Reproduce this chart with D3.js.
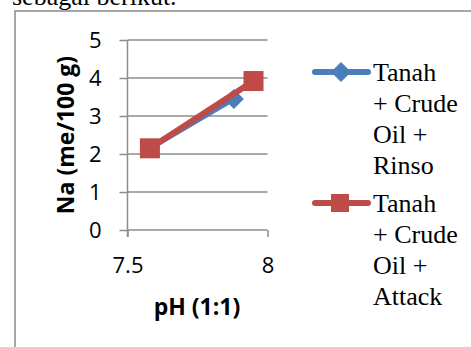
<!DOCTYPE html>
<html>
<head>
<meta charset="utf-8">
<script src="https://cdn.jsdelivr.net/npm/d3@7"></script>
<style>
  body { margin: 0; background: #fff; }
  svg { display: block; }
</style>
</head>
<body>
<div id="chart"></div>
<script>
// data
var seriesNames = ["Tanah + Crude Oil + Rinso", "Tanah + Crude Oil + Attack"];
var legendLines = [["Tanah", "+ Crude", "Oil +", "Rinso"], ["Tanah", "+ Crude", "Oil +", "Attack"]];
var phRinso = [7.58, 7.88];
var naRinso = [2.15, 3.45];
var phAttack = [7.58, 7.95];
var naAttack = [2.15, 3.92];
var yTicks = [0, 1, 2, 3, 4, 5];
var xTicks = [7.5, 8];
var colors = ["#4a7ebb", "#be4b48"];

var w = 471, h = 347;
var svg = d3.select("#chart").append("svg").attr("width", w).attr("height", h);

// caption text above, cut off by the page edge
svg.append("text")
  .attr("x", 12).attr("y", 5)
  .attr("font-family", "Liberation Serif, Times New Roman, serif")
  .attr("font-size", 26)
  .text("sebagai berikut.");

// chart frame
svg.append("path")
  .attr("d", "M15," + (h + 2) + "V11H" + (w + 2))
  .attr("fill", "none")
  .attr("stroke", "#8a8a8a")
  .attr("stroke-width", 1.5);

var x = d3.scaleLinear().domain([7.5, 8]).range([127.5, 267.5]);
var y = d3.scaleLinear().domain([0, 5]).range([230, 40]);

var grid = "#8c8c8c";
var sans = "Open Sans, Lato, sans-serif";

// gridlines
svg.append("g").selectAll("line")
  .data(yTicks.slice(1))
  .enter().append("line")
  .attr("x1", x(7.5)).attr("x2", x(8))
  .attr("y1", function(d) { return y(d); })
  .attr("y2", function(d) { return y(d); })
  .attr("stroke", grid).attr("stroke-width", 1.5);

// y axis
var yAxis = svg.append("g")
  .attr("transform", "translate(" + x(7.5) + ",0)")
  .call(d3.axisLeft(y).tickValues(yTicks).tickSize(8).tickPadding(18).tickFormat(d3.format("d")));
yAxis.select(".domain").attr("d", "M0," + y(5) + "V" + (y(0) + 7));

// x axis
var xAxis = svg.append("g")
  .attr("transform", "translate(0," + y(0) + ")")
  .call(d3.axisBottom(x).tickValues(xTicks).tickSize(7).tickPadding(20).tickFormat(function(d) { return d === 8 ? "8" : d3.format(".1f")(d); }));
xAxis.select(".domain").attr("d", "M" + x(7.5) + ",0H" + x(8));

svg.selectAll(".tick line, .domain").attr("stroke", grid).attr("stroke-width", 1.5);
svg.selectAll(".tick text")
  .attr("font-family", sans)
  .attr("font-size", 22)
  .attr("fill", "#000");

// axis titles
svg.append("text")
  .attr("x", 197).attr("y", 315)
  .attr("text-anchor", "middle")
  .attr("font-family", sans)
  .attr("font-weight", "bold")
  .attr("font-size", 23)
  .text("pH (1:1)");

svg.append("text")
  .attr("transform", "translate(74,135) rotate(-90)")
  .attr("text-anchor", "middle")
  .attr("font-family", sans)
  .attr("font-weight", "bold")
  .attr("font-size", 23)
  .text("Na (me/100 g)");

var line = d3.line().x(function(d) { return x(d[0]); }).y(function(d) { return y(d[1]); });

var rinso = d3.zip(phRinso, naRinso);
var attack = d3.zip(phAttack, naAttack);

// Rinso series (blue, diamonds)
svg.append("path").datum(rinso)
  .attr("d", line).attr("fill", "none")
  .attr("stroke", colors[0]).attr("stroke-width", 5).attr("stroke-linecap", "round");
svg.append("g").selectAll("path")
  .data(rinso).enter().append("path")
  .attr("transform", function(d) { return "translate(" + x(d[0]) + "," + y(d[1]) + ")"; })
  .attr("d", "M0,-10L10,0L0,10L-10,0Z")
  .attr("fill", colors[0]);

// Attack series (red, squares)
svg.append("path").datum(attack)
  .attr("d", line).attr("fill", "none")
  .attr("stroke", colors[1]).attr("stroke-width", 6).attr("stroke-linecap", "round");
svg.append("g").selectAll("rect")
  .data(attack).enter().append("rect")
  .attr("x", function(d) { return x(d[0]) - 10; })
  .attr("y", function(d) { return y(d[1]) - 10; })
  .attr("width", 20).attr("height", 20)
  .attr("fill", colors[1]);

// legend
var legendTop = [72, 203];
seriesNames.forEach(function(name, i) {
  var g = svg.append("g").attr("transform", "translate(0," + legendTop[i] + ")");
  g.append("line").attr("x1", 315).attr("x2", 368)
    .attr("stroke", colors[i]).attr("stroke-width", 6).attr("stroke-linecap", "round");
  if (i === 0) {
    g.append("path").attr("d", "M341,-10L351,0L341,10L331,0Z").attr("fill", colors[i]);
  } else {
    g.append("rect").attr("x", 331).attr("y", -9).attr("width", 18).attr("height", 18).attr("fill", colors[i]);
  }
  var t = g.append("text")
    .attr("font-family", "Liberation Serif, Times New Roman, serif")
    .attr("font-size", 26)
    .attr("fill", "#000");
  legendLines[i].forEach(function(s, j) {
    t.append("tspan").attr("x", 373).attr("y", 9 + j * 31).text(s);
  });
});
</script>
</body>
</html>
